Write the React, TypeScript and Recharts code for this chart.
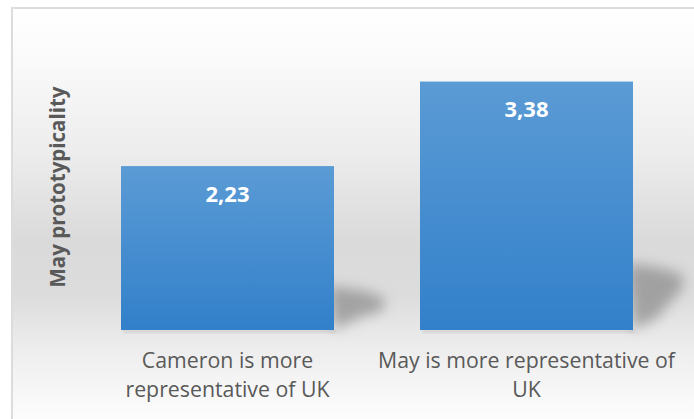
import { Bar, BarChart, LabelList, XAxis, YAxis } from "recharts";

const categories = ["Cameron is more representative of UK", "May is more representative of UK"];
const tickLines = [
  ["Cameron is more", "representative of UK"],
  ["May is more representative of", "UK"],
];
const values = [2.23, 3.38];
const yTitle = "May prototypicality";

const data = categories.map((name, i) => ({ name, value: values[i] }));

const font = "'Open Sans', 'DejaVu Sans', sans-serif";

function ShadowBar(props: any) {
  const { x, y, width, height } = props;
  const b = y + height;
  const r = x + width;
  const sh = height * 0.27;
  return (
    <g>
      <polygon
        points={`${r - 6},${b - sh} ${r + 28},${b - sh + 5} ${r + 50},${b - sh + 12} ${r + 50},${b - sh + 24} ${r + 24},${b - 12} ${r},${b}`}
        fill="#7a7a7a"
        opacity={0.6}
        filter="url(#barShadow)"
      />
      <rect x={x + 2} y={b} width={width} height={3} fill="#000" opacity={0.08} filter="url(#underShadow)" />
      <rect x={x} y={y} width={width} height={height} fill="url(#barFill)" />
    </g>
  );
}

function CategoryTick(props: any) {
  const { x, y, index } = props;
  const lines = tickLines[index] ?? [];
  return (
    <g>
      {lines.map((line, i) => (
        <text
          key={i}
          x={x}
          y={y + 37.5 + i * 29}
          textAnchor="middle"
          fill="#595959"
          fontSize={21.3}
          fontFamily={font}
        >
          {line}
        </text>
      ))}
    </g>
  );
}

function ValueLabel(props: any) {
  const { x, y, width, value } = props;
  return (
    <text
      x={x + width / 2}
      y={y + 35.5}
      textAnchor="middle"
      fill="#ffffff"
      fontSize={22}
      fontWeight={700}
      fontFamily={font}
    >
      {String(value).replace(".", ",")}
    </text>
  );
}

function YTitle(props: any) {
  const { viewBox } = props;
  const cx = viewBox.x + viewBox.width - 13;
  const cy = 187;
  return (
    <text
      x={cx}
      y={cy}
      transform={`rotate(-90, ${cx}, ${cy})`}
      textAnchor="middle"
      fill="#595959"
      fontSize={20.5}
      fontWeight={700}
      fontFamily={font}
    >
      {yTitle}
    </text>
  );
}

export default function App() {
  return (
    <div style={{ position: "absolute", left: 0, top: 0, width: 694, height: 419, overflow: "hidden", background: "#fff" }}>
      <div
        style={{
          position: "absolute",
          left: 11,
          top: 7,
          width: 700,
          height: 420,
          borderTop: "2px solid #dcdcdc",
          borderLeft: "2px solid #dcdcdc",
          background:
            "linear-gradient(to bottom, #ffffff 0%, #fafafa 12%, #ececec 35%, #dadada 55%, #dcdcdc 68%, #ececec 80%, #f8f8f8 92%, #fefefe 100%)",
        }}
      />
      <div style={{ position: "absolute", left: 0, top: 0 }}>
        <BarChart width={694} height={419} data={data} margin={{ top: 36, right: 18, bottom: 0, left: 0 }}>
          <defs>
            <linearGradient id="barFill" x1="0" y1="0" x2="0" y2="1">
              <stop offset="0%" stopColor="#5b9bd5" />
              <stop offset="100%" stopColor="#3280ca" />
            </linearGradient>
            <filter id="barShadow" x="-50%" y="-50%" width="200%" height="200%">
              <feGaussianBlur stdDeviation="6.5" />
            </filter>
            <filter id="underShadow" x="-10%" y="-200%" width="120%" height="500%">
              <feGaussianBlur stdDeviation="1.2" />
            </filter>
          </defs>
          <XAxis
            dataKey="name"
            axisLine={false}
            tickLine={false}
            tickSize={0}
            tickMargin={0}
            height={89}
            interval={0}
            tick={<CategoryTick />}
          />
          <YAxis
            domain={[0, 4]}
            width={78}
            tick={false}
            axisLine={false}
            tickLine={false}
            label={<YTitle />}
          />
          <Bar dataKey="value" barSize={213} shape={<ShadowBar />} isAnimationActive={false}>
            <LabelList dataKey="value" content={<ValueLabel />} />
          </Bar>
        </BarChart>
      </div>
    </div>
  );
}
